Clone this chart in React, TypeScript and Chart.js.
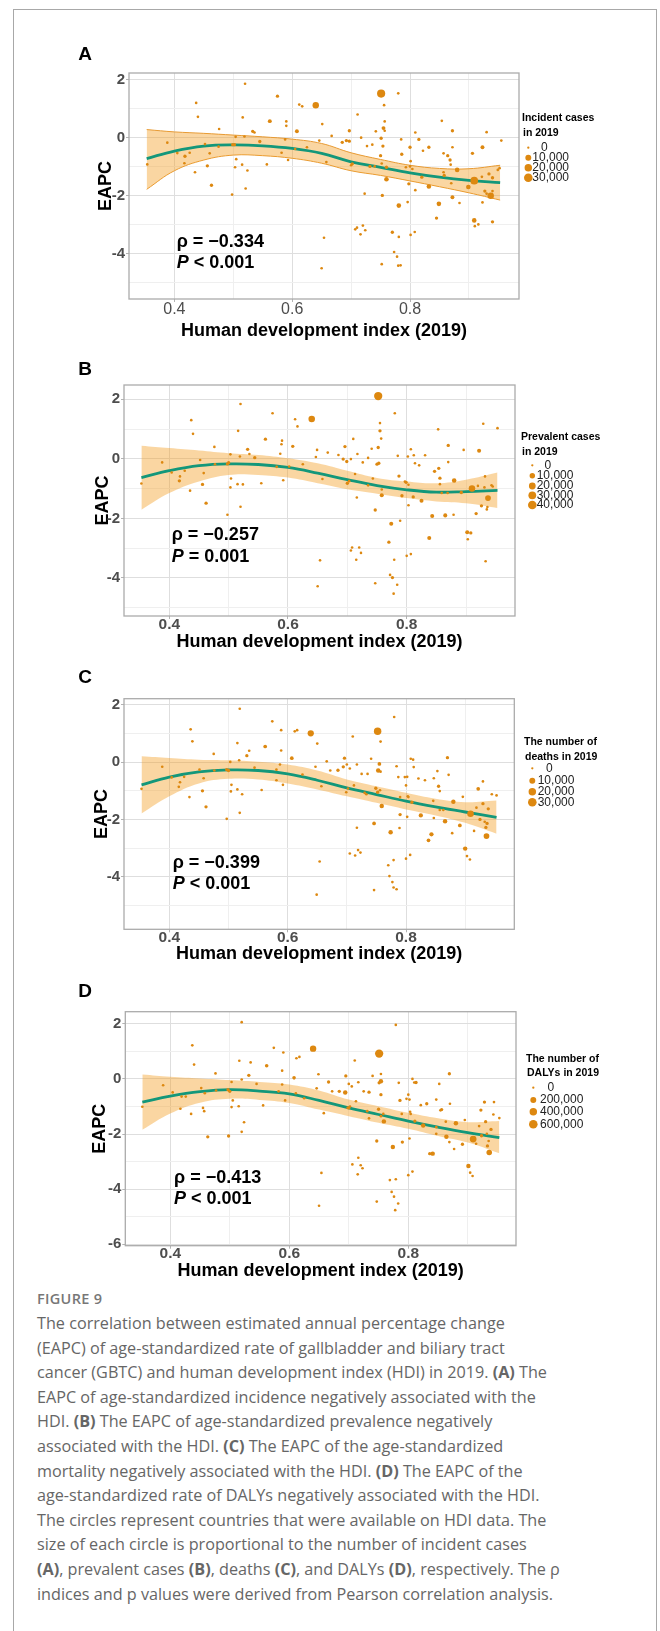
import React, { useEffect, useRef } from "react";
import { Chart, registerables } from "chart.js";
Chart.register(...registerables);

const FONT = "'Liberation Sans', Arial, Helvetica, sans-serif";
const ORANGE = "#dd8810";
const GREEN = "#13977a";
const RIBBON = "rgba(243,160,40,0.43)";
const RIBBON_EDGE = "#e79a33";
const GRID_MAJOR = "#dedede";
const GRID_MINOR = "#efefef";
const BORDER = "#ababab";
const TICK_TEXT = "#4d4d4d";

// HDI positions of the smoothed fit
const curveX = [0.353, 0.4, 0.45, 0.5, 0.55, 0.6, 0.65, 0.7, 0.75, 0.8, 0.85, 0.9, 0.953];
const xTickValues = [0.4, 0.5, 0.6, 0.7, 0.8, 0.9];
const xTickLabels = ["0.4", "", "0.6", "", "0.8", ""];

// ---------- Panel A : incident cases ----------
const fitA = [-0.73, -0.47, -0.30, -0.26, -0.29, -0.38, -0.55, -0.84, -1.03, -1.22, -1.37, -1.48, -1.56];
const upperA = [0.27, 0.19, 0.14, 0.08, 0.02, -0.06, -0.21, -0.53, -0.76, -0.96, -1.07, -1.08, -0.96];
const lowerA = [-1.79, -1.15, -0.78, -0.61, -0.63, -0.72, -0.89, -1.15, -1.31, -1.50, -1.70, -1.91, -2.16];
const pointsA = [
  [0.520, 1.85, 100], [0.575, 1.42, 800], [0.437, 1.19, 100], [0.440, 0.71, 100], [0.516, 0.69, 100],
  [0.562, 0.56, 2000], [0.590, 0.55, 100], [0.590, 0.40, 100], [0.612, 1.13, 100], [0.617, 1.07, 100],
  [0.640, 1.11, 13000], [0.608, 0.21, 2000], [0.533, 0.21, 800], [0.536, 0.17, 100], [0.476, 0.29, 100],
  [0.751, 1.51, 26000], [0.780, 1.52, 100], [0.756, 1.11, 100], [0.711, 0.79, 100], [0.757, 0.55, 100],
  [0.755, 0.32, 2000], [0.757, 0.23, 100], [0.742, 0.21, 100], [0.697, 0.23, 800], [0.854, 0.57, 100],
  [0.872, 0.23, 800], [0.930, 0.18, 100], [0.809, 0.17, 100], [0.955, -0.11, 100], [0.923, -0.34, 2000],
  [0.651, 0.46, 100], [0.667, 0.05, 100], [0.717, -0.01, 100], [0.751, -0.03, 800], [0.785, -0.07, 100],
  [0.815, -0.07, 800], [0.692, -0.11, 800], [0.697, -0.13, 800], [0.685, -0.17, 800], [0.646, -0.11, 100],
  [0.736, -0.25, 100], [0.727, -0.30, 100], [0.754, -0.30, 800], [0.800, -0.34, 800], [0.832, -0.34, 800],
  [0.822, -0.46, 100], [0.872, -0.34, 100], [0.857, -0.55, 100], [0.864, -0.63, 800], [0.868, -0.78, 800],
  [0.869, -0.94, 100], [0.906, -0.55, 800], [0.786, -0.58, 800], [0.801, -0.82, 100], [0.750, -0.63, 800],
  [0.752, -0.90, 100], [0.760, -1.03, 800], [0.732, -1.00, 800], [0.740, -1.00, 100], [0.793, -1.03, 100],
  [0.804, -1.09, 100], [0.800, -1.00, 100], [0.880, -1.12, 4000], [0.857, -1.20, 100], [0.858, -1.31, 800],
  [0.820, -1.37, 800], [0.760, -1.44, 4000], [0.909, -1.49, 22000], [0.940, -1.39, 800], [0.934, -1.26, 800],
  [0.922, -1.36, 100], [0.949, -1.12, 100], [0.870, -1.58, 100], [0.899, -1.71, 4000], [0.940, -1.85, 100],
  [0.927, -1.85, 800], [0.937, -2.01, 13000], [0.872, -2.06, 2000], [0.832, -1.69, 4000], [0.798, -1.60, 800],
  [0.809, -1.82, 100], [0.884, -2.26, 100], [0.923, -2.24, 100], [0.849, -2.29, 4000], [0.796, -2.23, 100],
  [0.781, -2.35, 4000], [0.753, -2.00, 800], [0.723, -1.94, 100], [0.845, -2.78, 800], [0.909, -2.86, 4000],
  [0.910, -3.06, 100], [0.916, -3.00, 100], [0.940, -2.91, 800], [0.707, -3.17, 100], [0.710, -3.11, 100],
  [0.720, -3.04, 100], [0.724, -3.20, 100], [0.716, -3.34, 100], [0.770, -3.27, 800], [0.781, -3.43, 100],
  [0.801, -3.36, 100], [0.808, -3.26, 100], [0.654, -3.46, 100], [0.773, -3.95, 100], [0.778, -4.11, 100],
  [0.780, -4.42, 100], [0.784, -4.41, 100], [0.752, -4.37, 100], [0.650, -4.51, 100], [0.354, -0.93, 100],
  [0.388, -0.18, 100], [0.405, -0.54, 100], [0.418, -0.65, 800], [0.426, -0.53, 100], [0.417, -0.89, 100],
  [0.435, -1.20, 100], [0.452, -0.23, 100], [0.460, -0.55, 100], [0.456, -0.98, 800], [0.463, -1.65, 800],
  [0.475, -0.32, 100], [0.499, -0.25, 800], [0.502, -0.25, 800], [0.504, 0.02, 100], [0.519, 0.03, 100],
  [0.505, -0.75, 100], [0.503, -1.03, 100], [0.515, -0.94, 100], [0.524, -1.14, 100], [0.521, -1.76, 100],
  [0.498, -1.97, 100], [0.545, -0.14, 800], [0.557, -0.93, 100], [0.582, -0.53, 100], [0.588, -0.07, 100],
  [0.593, -0.78, 100], [0.605, -0.40, 100], [0.625, -0.34, 100], [0.658, -0.85, 100], [0.702, -0.91, 800],
  [0.700, -0.96, 100], [0.952, -1.06, 100], [0.930, -1.94, 100],
];
const legendA = [0, 10000, 20000, 30000];

// ---------- Panel B : prevalent cases ----------
const fitB = [-0.63, -0.40, -0.23, -0.17, -0.19, -0.29, -0.48, -0.70, -0.90, -1.04, -1.12, -1.10, -1.06];
const upperB = [0.44, 0.36, 0.28, 0.19, 0.13, 0.02, -0.15, -0.40, -0.64, -0.76, -0.82, -0.70, -0.46];
const lowerB = [-1.71, -1.15, -0.76, -0.54, -0.54, -0.63, -0.82, -1.02, -1.17, -1.32, -1.43, -1.49, -1.65];
const pointsB = [
  [0.520, 1.84, 100], [0.574, 1.53, 100], [0.437, 1.30, 100], [0.440, 0.84, 100], [0.516, 0.94, 100],
  [0.562, 0.66, 1100], [0.590, 0.61, 100], [0.589, 0.49, 100], [0.612, 1.33, 100], [0.616, 1.09, 100],
  [0.640, 1.34, 18000], [0.608, 0.42, 1100], [0.532, 0.32, 1100], [0.535, 0.16, 100], [0.476, 0.40, 100],
  [0.752, 2.11, 36000], [0.780, 1.53, 100], [0.755, 1.20, 100], [0.710, 0.67, 100], [0.755, 0.94, 1100],
  [0.757, 0.68, 100], [0.752, 0.38, 1100], [0.741, 0.34, 100], [0.696, 0.41, 1100], [0.853, 0.99, 100],
  [0.870, 0.45, 1100], [0.929, 1.18, 100], [0.807, 0.32, 100], [0.953, 1.03, 100], [0.922, 0.27, 3000],
  [0.649, 0.30, 100], [0.667, 0.21, 100], [0.717, 0.16, 100], [0.693, -0.01, 1100], [0.785, 0.10, 100],
  [0.812, 0.12, 100], [0.699, -0.09, 1100], [0.706, -0.01, 100], [0.685, 0.13, 100], [0.647, 0.06, 100],
  [0.735, 0.03, 100], [0.726, -0.12, 100], [0.750, -0.18, 1100], [0.802, 0.08, 100], [0.831, 0.12, 100],
  [0.814, -0.15, 100], [0.870, -0.11, 100], [0.854, -0.32, 1100], [0.847, -0.42, 1100], [0.856, -0.65, 1100],
  [0.856, -0.85, 100], [0.896, 0.30, 100], [0.787, -0.58, 1100], [0.797, -0.76, 100], [0.753, -0.15, 1100],
  [0.758, -1.03, 100], [0.758, -1.22, 3000], [0.743, -0.66, 100], [0.735, -0.89, 100], [0.799, -0.79, 1100],
  [0.803, -0.87, 100], [0.821, -0.22, 100], [0.880, -0.73, 5000], [0.859, -1.15, 100], [0.811, -1.28, 1100],
  [0.792, -1.24, 1100], [0.910, -1.00, 18000], [0.937, -1.32, 12000], [0.931, -0.96, 100], [0.945, -0.93, 100],
  [0.932, -0.59, 100], [0.869, -1.15, 100], [0.892, -1.13, 1100], [0.936, -1.62, 100], [0.926, -1.58, 1100],
  [0.917, -1.84, 1100], [0.865, -1.90, 3000], [0.825, -1.41, 3000], [0.803, -1.56, 100], [0.879, -1.88, 100],
  [0.843, -1.92, 3000], [0.920, -0.91, 100], [0.902, -2.47, 3000], [0.908, -2.49, 1100], [0.903, -2.70, 100],
  [0.933, -3.44, 100], [0.838, -2.66, 3000], [0.789, -2.08, 100], [0.774, -2.18, 3000], [0.747, -1.72, 1100],
  [0.716, -1.30, 100], [0.713, -0.51, 100], [0.708, -2.98, 100], [0.706, -3.08, 100], [0.720, -2.98, 100],
  [0.723, -3.16, 100], [0.715, -3.39, 100], [0.770, -2.80, 1100], [0.779, -3.39, 100], [0.800, -3.26, 100],
  [0.807, -3.20, 100], [0.654, -3.41, 100], [0.772, -3.90, 100], [0.776, -3.99, 1100], [0.784, -4.23, 100],
  [0.778, -4.53, 100], [0.747, -4.18, 100], [0.650, -4.28, 100], [0.353, -0.83, 100], [0.388, -0.12, 100],
  [0.404, -0.46, 100], [0.417, -0.74, 1100], [0.426, -0.40, 100], [0.418, -0.59, 100], [0.435, -1.07, 100],
  [0.452, -0.04, 100], [0.458, -0.48, 100], [0.456, -0.86, 1100], [0.462, -1.49, 1100], [0.477, -0.18, 100],
  [0.498, -0.17, 1100], [0.500, -0.13, 1100], [0.503, 0.15, 100], [0.519, 0.08, 100], [0.504, -0.66, 100],
  [0.503, -0.96, 100], [0.515, -0.85, 100], [0.524, -0.86, 100], [0.520, -1.61, 100], [0.498, -1.88, 100],
  [0.544, 0.04, 1100], [0.555, -0.82, 100], [0.581, -0.27, 100], [0.587, 0.17, 100], [0.592, -0.72, 100],
  [0.602, -0.26, 100], [0.625, -0.18, 100], [0.658, -0.68, 100], [0.700, -0.82, 1100], [0.703, -0.75, 100],
  [0.943, -0.89, 100], [0.935, -1.70, 100],
];
const legendB = [0, 10000, 20000, 30000, 40000];

// ---------- Panel C : deaths ----------
const fitC = [-0.79, -0.52, -0.34, -0.27, -0.29, -0.41, -0.63, -0.90, -1.13, -1.36, -1.56, -1.74, -1.93];
const upperC = [0.21, 0.15, 0.09, 0.07, 0.02, -0.08, -0.29, -0.60, -0.84, -1.07, -1.28, -1.40, -1.34];
const lowerC = [-1.79, -1.19, -0.74, -0.58, -0.60, -0.74, -0.95, -1.19, -1.42, -1.65, -1.86, -2.12, -2.50];
const pointsC = [
  [0.519, 1.87, 100], [0.574, 1.43, 100], [0.436, 1.15, 100], [0.439, 0.73, 100], [0.515, 0.67, 100],
  [0.562, 0.55, 1500], [0.589, 1.12, 100], [0.589, 0.41, 100], [0.612, 1.08, 100], [0.616, 1.12, 100],
  [0.639, 1.01, 12000], [0.607, 0.14, 1500], [0.531, 0.23, 800], [0.535, 0.40, 100], [0.475, 0.29, 100],
  [0.752, 1.08, 20000], [0.780, 1.58, 100], [0.757, 0.72, 100], [0.710, 0.90, 100], [0.650, 0.65, 100],
  [0.755, -0.06, 1500], [0.753, -0.29, 3500], [0.741, 0.12, 100], [0.696, 0.14, 800], [0.870, 0.16, 800],
  [0.812, 0.09, 100], [0.808, 0.12, 100], [0.930, -0.67, 100], [0.945, -1.12, 100], [0.953, -1.16, 100],
  [0.666, 0.03, 100], [0.647, -0.16, 100], [0.717, -0.08, 100], [0.694, -0.16, 800], [0.685, -0.28, 800],
  [0.700, -0.08, 100], [0.705, -0.22, 100], [0.672, -0.29, 100], [0.725, -0.41, 100], [0.735, -0.41, 100],
  [0.757, -0.33, 100], [0.784, -0.14, 100], [0.802, -0.51, 100], [0.798, -0.52, 100], [0.787, -0.52, 100],
  [0.813, -0.17, 100], [0.821, -0.57, 100], [0.832, -0.63, 100], [0.853, -0.31, 100], [0.847, -0.56, 100],
  [0.872, -0.44, 100], [0.855, -0.84, 800], [0.857, -1.01, 100], [0.800, -0.81, 100], [0.803, -1.19, 100],
  [0.790, -1.22, 100], [0.804, -1.22, 100], [0.749, -0.91, 800], [0.756, -0.98, 100], [0.752, -1.05, 800],
  [0.730, -1.07, 100], [0.733, -1.12, 100], [0.712, -0.81, 100], [0.699, -1.05, 100], [0.702, -0.92, 100],
  [0.759, -1.53, 3500], [0.810, -1.40, 800], [0.880, -1.38, 3500], [0.909, -1.80, 14000], [0.919, -1.59, 100],
  [0.930, -1.45, 800], [0.939, -1.63, 800], [0.922, -0.93, 1500], [0.896, -1.21, 100], [0.857, -1.67, 100],
  [0.863, -1.67, 100], [0.846, -1.35, 100], [0.825, -1.86, 3000], [0.802, -1.91, 100], [0.790, -1.83, 800],
  [0.866, -2.06, 3500], [0.847, -1.95, 100], [0.925, -2.00, 800], [0.933, -2.08, 100], [0.937, -2.14, 800],
  [0.935, -2.28, 800], [0.936, -2.58, 9000], [0.915, -2.40, 100], [0.891, -2.21, 1500], [0.878, -2.48, 100],
  [0.843, -2.52, 3000], [0.838, -2.73, 1500], [0.789, -2.30, 100], [0.774, -2.45, 3500], [0.746, -2.14, 1500],
  [0.717, -2.29, 100], [0.900, -3.02, 3500], [0.903, -3.28, 100], [0.908, -3.40, 100], [0.705, -3.19, 100],
  [0.714, -3.26, 100], [0.719, -3.07, 100], [0.723, -3.16, 100], [0.770, -3.60, 100], [0.779, -3.42, 100],
  [0.800, -3.37, 100], [0.807, -3.24, 100], [0.654, -3.47, 100], [0.772, -3.98, 100], [0.777, -4.19, 100],
  [0.779, -4.38, 100], [0.784, -4.44, 100], [0.746, -4.47, 100], [0.649, -4.63, 100], [0.353, -0.93, 100],
  [0.388, -0.16, 100], [0.404, -0.53, 100], [0.418, -0.70, 100], [0.425, -0.51, 100], [0.416, -0.86, 100],
  [0.434, -1.22, 100], [0.451, -0.26, 100], [0.458, -0.56, 100], [0.456, -1.00, 800], [0.462, -1.56, 800],
  [0.476, -0.29, 100], [0.497, -0.26, 800], [0.500, -0.29, 800], [0.503, 0.01, 100], [0.518, 0.07, 100],
  [0.505, -0.79, 100], [0.504, -1.02, 100], [0.515, -0.95, 100], [0.523, -1.12, 100], [0.519, -1.77, 100],
  [0.497, -1.98, 100], [0.544, -0.19, 100], [0.556, -0.97, 100], [0.581, -0.26, 100], [0.587, -0.08, 100],
  [0.592, -0.79, 100], [0.581, -0.63, 100], [0.625, -0.43, 100], [0.657, -0.84, 100],
];
const legendC = [0, 10000, 20000, 30000];

// ---------- Panel D : DALYs ----------
const fitD = [-0.84, -0.62, -0.46, -0.39, -0.44, -0.54, -0.78, -1.05, -1.29, -1.53, -1.75, -1.95, -2.13];
const upperD = [0.16, 0.08, 0.02, -0.04, -0.11, -0.20, -0.42, -0.75, -0.99, -1.23, -1.43, -1.57, -1.53];
const lowerD = [-1.84, -1.25, -0.86, -0.72, -0.76, -0.87, -1.11, -1.35, -1.59, -1.81, -2.07, -2.31, -2.70];
const pointsD = [
  [0.520, 2.06, 2000], [0.574, 1.13, 2000], [0.437, 1.22, 2000], [0.440, 0.52, 2000], [0.516, 0.66, 2000],
  [0.562, 0.48, 25000], [0.590, 0.96, 2000], [0.588, 0.30, 2000], [0.612, 0.75, 2000], [0.617, 0.80, 2000],
  [0.640, 1.10, 250000], [0.608, 0.04, 25000], [0.532, 0.13, 16000], [0.535, 0.60, 2000], [0.476, 0.20, 2000],
  [0.751, 0.92, 540000], [0.779, 1.96, 2000], [0.754, 0.18, 2000], [0.710, 0.67, 2000], [0.649, 0.17, 2000],
  [0.754, -0.08, 70000], [0.751, -0.14, 16000], [0.740, 0.11, 2000], [0.695, 0.11, 16000], [0.869, 0.19, 16000],
  [0.810, -0.13, 2000], [0.807, 0.00, 2000], [0.928, -0.84, 16000], [0.943, -1.29, 2000], [0.953, -1.42, 2000],
  [0.666, -0.11, 16000], [0.646, -0.34, 2000], [0.716, -0.12, 2000], [0.694, -0.49, 70000], [0.684, -0.45, 16000],
  [0.700, -0.18, 2000], [0.705, -0.27, 2000], [0.672, -0.45, 2000], [0.725, -0.45, 2000], [0.734, -0.48, 16000],
  [0.754, -0.57, 16000], [0.784, -0.14, 2000], [0.800, -0.57, 2000], [0.797, -0.72, 2000], [0.786, -0.78, 16000],
  [0.813, -0.13, 16000], [0.821, -0.95, 2000], [0.831, -0.90, 16000], [0.852, -0.18, 2000], [0.847, -0.75, 2000],
  [0.870, -0.90, 2000], [0.856, -1.11, 16000], [0.854, -1.14, 2000], [0.802, -0.75, 2000], [0.803, -1.19, 2000],
  [0.789, -1.27, 2000], [0.804, -1.27, 2000], [0.750, -1.10, 16000], [0.754, -1.35, 2000], [0.758, -1.27, 2000],
  [0.731, -1.17, 2000], [0.734, -1.43, 2000], [0.712, -0.81, 2000], [0.698, -1.05, 2000], [0.702, -1.00, 2000],
  [0.759, -1.54, 70000], [0.811, -1.53, 16000], [0.880, -1.61, 70000], [0.909, -2.18, 300000], [0.919, -1.71, 2000],
  [0.930, -1.55, 16000], [0.939, -1.83, 16000], [0.922, -1.13, 16000], [0.895, -1.49, 2000], [0.863, -1.55, 2000],
  [0.847, -1.75, 2000], [0.825, -1.69, 70000], [0.802, -2.16, 2000], [0.790, -2.29, 16000], [0.864, -2.10, 70000],
  [0.847, -1.99, 2000], [0.923, -2.06, 16000], [0.932, -1.99, 2000], [0.935, -2.25, 2000], [0.933, -2.43, 16000],
  [0.936, -2.67, 160000], [0.914, -2.35, 2000], [0.891, -2.37, 16000], [0.877, -2.54, 2000], [0.869, -2.29, 2000],
  [0.841, -2.71, 70000], [0.836, -2.71, 16000], [0.774, -2.47, 70000], [0.747, -2.25, 16000], [0.901, -3.16, 70000],
  [0.904, -3.40, 2000], [0.908, -3.52, 2000], [0.706, -3.10, 2000], [0.716, -2.86, 2000], [0.720, -3.13, 2000],
  [0.723, -3.24, 2000], [0.715, -3.46, 2000], [0.769, -3.67, 2000], [0.779, -3.64, 2000], [0.800, -3.49, 2000],
  [0.807, -3.36, 2000], [0.654, -3.41, 2000], [0.772, -4.10, 2000], [0.776, -4.27, 2000], [0.783, -4.52, 2000],
  [0.778, -4.76, 2000], [0.747, -4.45, 2000], [0.650, -4.60, 2000], [0.353, -1.01, 2000], [0.388, -0.23, 2000],
  [0.404, -0.49, 2000], [0.419, -0.64, 2000], [0.426, -0.64, 2000], [0.417, -1.08, 2000], [0.435, -1.27, 2000],
  [0.452, -0.33, 2000], [0.458, -0.52, 2000], [0.455, -1.05, 2000], [0.457, -1.17, 2000], [0.463, -2.10, 16000],
  [0.477, -0.42, 2000], [0.497, -0.39, 16000], [0.500, -0.45, 16000], [0.503, -0.11, 2000], [0.520, -0.02, 2000],
  [0.505, -0.78, 2000], [0.503, -1.02, 2000], [0.515, -0.99, 2000], [0.524, -1.57, 2000], [0.520, -1.92, 2000],
  [0.498, -2.07, 16000], [0.545, -0.18, 2000], [0.556, -0.96, 2000], [0.582, -0.45, 2000], [0.588, -0.20, 2000],
  [0.593, -0.78, 2000], [0.611, -0.52, 2000], [0.625, -0.70, 2000], [0.658, -1.24, 2000], [0.700, -1.05, 16000],
  [0.944, -0.84, 2000],
];
const legendD = [0, 200000, 400000, 600000];

const rhoValues = ["\u22120.334", "\u22120.257", "\u22120.399", "\u22120.413"];
const pRelations = ["<", "=", "<", "<"];
const pValues = ["0.001", "0.001", "0.001", "0.001"];
const legendTitles = [
  ["Incident cases", "in 2019"],
  ["Prevalent cases", "in 2019"],
  ["The number of", "deaths in 2019"],
  ["The number of", "DALYs in 2019"],
];

type Panel = any;

const panels: Panel[] = [
  {
    letter: "A", top: 30, height: 320, letterY: 55,
    plot: { l: 129, t: 73, r: 519, b: 299 }, xMin: 0.323, xMax: 0.985, yMin: -5.57, yMax: 2.22,
    yTicks: [-5, -4, -3, -2, -1, 0, 1, 2], yTitleX: 106, xTitleY: 331, xTickPad: 0, xTickBold: false, xTickSize: 16,
    fit: fitA, upper: upperA, lower: lowerA, points: pointsA, edge: true, vmax: 30000,
    rho: rhoValues[0], rel: pRelations[0], pv: pValues[0], statX: 176.7, rhoY: 241.7, pY: 262.7,
    legTitle: legendTitles[0], legVals: legendA, legX: 522, legTitleY: [118.3, 133.3], dotX: 528.3, labelX: 532.3, zeroX: 541,
    itemY: [147.7, 157.7, 167.7, 177.7],
  },
  {
    letter: "B", top: 350, height: 315, letterY: 369.3,
    plot: { l: 124, t: 385, r: 515, b: 616 }, xMin: 0.3237, xMax: 0.9825, yMin: -5.28, yMax: 2.48,
    yTicks: [-5, -4, -3, -2, -1, 0, 1, 2], yTitleX: 102.7, xTitleY: 642, xTickPad: -1.75, xTickBold: true, xTickSize: 15.5,
    fit: fitB, upper: upperB, lower: lowerB, points: pointsB, edge: false, vmax: 40000,
    rho: rhoValues[1], rel: pRelations[1], pv: pValues[1], statX: 171.7, rhoY: 535, pY: 556.7,
    legTitle: legendTitles[1], legVals: legendB, legX: 521, legTitleY: [436.7, 452.3], dotX: 532.3, labelX: 536.7, zeroX: 544.5,
    itemY: [465.3, 475.7, 486, 495.3, 505],
  },
  {
    letter: "C", top: 665, height: 310, letterY: 677.3,
    plot: { l: 124, t: 698.7, r: 514.3, b: 929.3 }, xMin: 0.3234, xMax: 0.983, yMin: -5.84, yMax: 2.22,
    yTicks: [-5, -4, -3, -2, -1, 0, 1, 2], yTitleX: 101.7, xTitleY: 954, xTickPad: -2.75, xTickBold: true, xTickSize: 15.5,
    fit: fitC, upper: upperC, lower: lowerC, points: pointsC, edge: false, vmax: 30000,
    rho: rhoValues[2], rel: pRelations[2], pv: pValues[2], statX: 172.7, rhoY: 862.7, pY: 884.3,
    legTitle: legendTitles[2], legVals: legendC, legX: 524, legTitleY: [742.3, 756.7], dotX: 532.3, labelX: 537.7, zeroX: 546,
    itemY: [768.3, 780.7, 791.7, 802.3],
  },
  {
    letter: "D", top: 975, height: 312, letterY: 991.7,
    plot: { l: 125.3, t: 1011.7, r: 516, b: 1245.7 }, xMin: 0.3244, xMax: 0.981, yMin: -6.05, yMax: 2.44,
    yTicks: [-6, -5, -4, -3, -2, -1, 0, 1, 2], yTitleX: 100, xTitleY: 1271.5, xTickPad: -3.1, xTickBold: true, xTickSize: 15.5,
    fit: fitD, upper: upperD, lower: lowerD, points: pointsD, edge: false, vmax: 600000,
    rho: rhoValues[3], rel: pRelations[3], pv: pValues[3], statX: 174, rhoY: 1177.7, pY: 1199.3,
    legTitle: legendTitles[3], legVals: legendD, legX: 526, legTitleY: [1059, 1073.3], dotX: 533.3, labelX: 540, zeroX: 547.4,
    itemY: [1087.7, 1100, 1111.7, 1124.3],
  },
];

const R_MIN = 1.15;
const R_MAX = 4.3;
function radius(v: number, vmax: number) {
  return R_MIN + (R_MAX - R_MIN) * Math.sqrt(Math.max(0, v) / vmax);
}

const Y_W = 50;
const X_H = 45;
const TITLE_SIZE = 18;

function overlay(p: Panel) {
  return {
    id: "overlay" + p.letter,
    afterDraw(chart: any) {
      const ctx = chart.ctx;
      const a = chart.chartArea;
      const oy = p.top;
      ctx.save();
      ctx.strokeStyle = BORDER;
      ctx.lineWidth = 1.3;
      ctx.strokeRect(a.left, a.top, a.right - a.left, a.bottom - a.top);

      ctx.fillStyle = "#000";
      ctx.textBaseline = "middle";
      ctx.textAlign = "center";
      ctx.font = `bold 19px ${FONT}`;
      ctx.fillText(p.letter, 85, p.letterY - oy);

      ctx.textAlign = "left";
      ctx.font = `bold 18px ${FONT}`;
      ctx.fillText(`\u03c1 = ${p.rho}`, p.statX, p.rhoY - oy);
      ctx.font = `italic bold 18px ${FONT}`;
      ctx.fillText("P", p.statX, p.pY - oy);
      const w = ctx.measureText("P").width;
      ctx.font = `bold 18px ${FONT}`;
      ctx.fillText(` ${p.rel} ${p.pv}`, p.statX + w, p.pY - oy);

      // size legend
      ctx.font = `bold 10.5px ${FONT}`;
      ctx.fillStyle = "#000";
      ctx.fillText(p.legTitle[0], p.legX, p.legTitleY[0] - oy);
      ctx.fillText(p.legTitle[1], p.legX + 1, p.legTitleY[1] - oy);
      ctx.font = `12px ${FONT}`;
      p.legVals.forEach((v: number, i: number) => {
        const y = p.itemY[i] - oy;
        ctx.fillStyle = ORANGE;
        ctx.beginPath();
        ctx.arc(p.dotX, y, radius(v, p.vmax), 0, Math.PI * 2);
        ctx.fill();
        ctx.fillStyle = "#222";
        ctx.fillText(v.toLocaleString("en-US"), v === 0 ? p.zeroX : p.labelX, y);
      });
      ctx.restore();
    },
  };
}

function buildConfig(p: Panel) {
  const xMajor = (v: number) => [0.4, 0.6, 0.8].some((m) => Math.abs(m - v) < 1e-6);
  const yMajor = (v: number) => Math.abs(v % 2) < 1e-6;
  const lh = TITLE_SIZE * 1.2;
  const toXY = (ys: number[]) => curveX.map((x, i) => ({ x, y: ys[i] }));
  return {
    type: "scatter",
    data: {
      datasets: [
        {
          type: "scatter",
          data: p.points.map((d: number[]) => ({ x: d[0], y: d[1], c: d[2] })),
          backgroundColor: ORANGE,
          borderWidth: 0,
          pointRadius: (c: any) => radius(c.raw ? c.raw.c : 0, p.vmax),
          pointHoverRadius: (c: any) => radius(c.raw ? c.raw.c : 0, p.vmax),
          showLine: false,
          order: 0,
        },
        {
          type: "line",
          data: toXY(p.fit),
          borderColor: GREEN,
          borderWidth: 2.8,
          pointRadius: 0,
          tension: 0.4,
          fill: false,
          showLine: true,
          order: 1,
        },
        {
          type: "line",
          data: toXY(p.upper),
          borderColor: p.edge ? RIBBON_EDGE : "rgba(0,0,0,0)",
          borderWidth: p.edge ? 1 : 0,
          backgroundColor: RIBBON,
          pointRadius: 0,
          tension: 0.4,
          fill: "+1",
          showLine: true,
          order: 2,
        },
        {
          type: "line",
          data: toXY(p.lower),
          borderColor: p.edge ? RIBBON_EDGE : "rgba(0,0,0,0)",
          borderWidth: p.edge ? 1 : 0,
          pointRadius: 0,
          tension: 0.4,
          fill: false,
          showLine: true,
          order: 3,
        },
      ],
    },
    options: {
      responsive: false,
      animation: false,
      events: [],
      layout: {
        padding: {
          left: p.plot.l - Y_W,
          top: p.plot.t - p.top,
          right: 660 - p.plot.r,
          bottom: p.top + p.height - (p.plot.b + X_H),
        },
      },
      plugins: { legend: { display: false }, tooltip: { enabled: false } },
      scales: {
        x: {
          type: "linear",
          position: "bottom",
          min: p.xMin,
          max: p.xMax,
          afterBuildTicks: (s: any) => {
            s.ticks = xTickValues.map((v) => ({ value: v }));
          },
          afterFit: (s: any) => {
            s.height = X_H;
          },
          ticks: {
            autoSkip: false,
            maxRotation: 0,
            padding: p.xTickPad,
            color: TICK_TEXT,
            font: { family: FONT, size: p.xTickSize, weight: p.xTickBold ? "bold" : "normal", lineHeight: 1 },
            callback: (v: number) => xTickLabels[xTickValues.findIndex((t) => Math.abs(t - v) < 1e-6)] ?? "",
          },
          grid: {
            color: (c: any) => (c.tick && xMajor(c.tick.value) ? GRID_MAJOR : GRID_MINOR),
            lineWidth: 1,
            tickLength: 3,
            tickColor: (c: any) => (c.tick && xMajor(c.tick.value) ? "#b3b3b3" : "rgba(0,0,0,0)"),
          },
          border: { display: false },
          title: {
            display: true,
            text: "Human development index (2019)",
            color: "#000",
            font: { family: FONT, size: TITLE_SIZE, weight: "bold" },
            padding: { top: 0, bottom: p.plot.b + X_H - lh / 2 - p.xTitleY },
          },
        },
        y: {
          type: "linear",
          position: "left",
          min: p.yMin,
          max: p.yMax,
          afterBuildTicks: (s: any) => {
            s.ticks = p.yTicks.map((v: number) => ({ value: v }));
          },
          afterFit: (s: any) => {
            s.width = Y_W;
          },
          ticks: {
            padding: 1,
            color: TICK_TEXT,
            font: { family: FONT, size: 15, weight: "bold" },
            callback: (v: number) => (yMajor(v) ? String(v) : ""),
          },
          grid: {
            color: (c: any) => (c.tick && yMajor(c.tick.value) ? GRID_MAJOR : GRID_MINOR),
            lineWidth: 1,
            tickLength: 3,
            tickColor: (c: any) => (c.tick && yMajor(c.tick.value) ? "#b3b3b3" : "rgba(0,0,0,0)"),
          },
          border: { display: false },
          title: {
            display: true,
            text: "EAPC",
            color: "#000",
            font: { family: FONT, size: TITLE_SIZE, weight: "bold" },
            padding: { top: p.yTitleX - (p.plot.l - Y_W) - lh / 2, bottom: 0 },
          },
        },
      },
    },
    plugins: [overlay(p)],
  };
}

function PanelChart({ p }: { p: Panel }) {
  const ref = useRef<HTMLCanvasElement | null>(null);
  useEffect(() => {
    const chart = new Chart(ref.current as HTMLCanvasElement, buildConfig(p) as any);
    return () => chart.destroy();
  }, [p]);
  return (
    <canvas
      ref={ref}
      width={660}
      height={p.height}
      style={{ position: "absolute", left: 0, top: p.top, width: 660, height: p.height }}
    />
  );
}

const captionLines: React.ReactNode[] = [
  "The correlation between estimated annual percentage change",
  "(EAPC) of age-standardized rate of gallbladder and biliary tract",
  <>cancer (GBTC) and human development index (HDI) in 2019. <b>(A)</b> The</>,
  "EAPC of age-standardized incidence negatively associated with the",
  <>HDI. <b>(B)</b> The EAPC of age-standardized prevalence negatively</>,
  <>associated with the HDI. <b>(C)</b> The EAPC of the age-standardized</>,
  <>mortality negatively associated with the HDI. <b>(D)</b> The EAPC of the</>,
  "age-standardized rate of DALYs negatively associated with the HDI.",
  "The circles represent countries that were available on HDI data. The",
  "size of each circle is proportional to the number of incident cases",
  <><b>(A)</b>, prevalent cases <b>(B)</b>, deaths <b>(C)</b>, and DALYs <b>(D)</b>, respectively. The ρ</>,
  "indices and p values were derived from Pearson correlation analysis.",
];

export default function App() {
  return (
    <div style={{ position: "absolute", left: 0, top: 0, width: 660, height: 1631, overflow: "hidden", background: "#fff" }}>
      <div
        style={{
          position: "absolute", left: 13, top: 9, width: 642, height: 1700,
          borderTop: "1px solid #a8a8a8", borderLeft: "1px solid #a8a8a8", borderRight: "1px solid #a8a8a8",
        }}
      />
      {panels.map((p) => (
        <PanelChart key={p.letter} p={p} />
      ))}
      <div
        style={{
          position: "absolute", left: 37, top: 1287, width: 610,
          fontFamily: "'Open Sans', 'Noto Sans', sans-serif", color: "#666", whiteSpace: "nowrap",
        }}
      >
        <div style={{ fontSize: 14.5, fontWeight: 600, height: 24, lineHeight: "24px", color: "#777", letterSpacing: 0.3 }}>
          FIGURE 9
        </div>
        {captionLines.map((l, i) => (
          <div key={i} style={{ fontSize: 16.2, lineHeight: "24.6px", height: 24.6 }}>
            {l}
          </div>
        ))}
      </div>
    </div>
  );
}
